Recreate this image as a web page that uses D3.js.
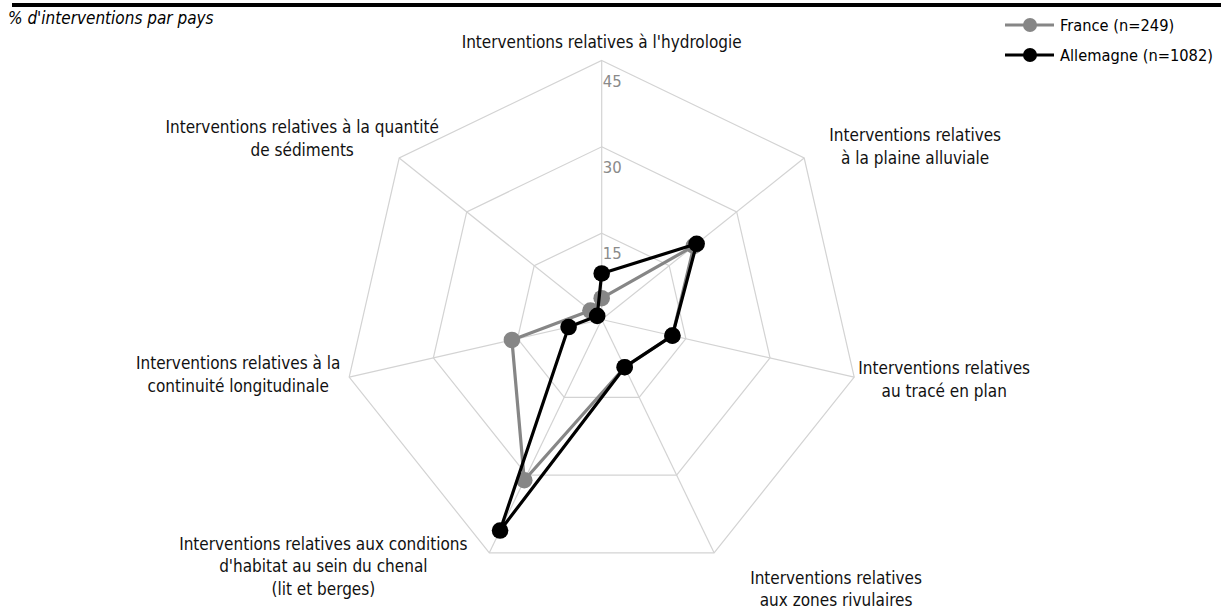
<!DOCTYPE html>
<html>
<head>
<meta charset="utf-8">
<script src="https://cdn.jsdelivr.net/npm/d3@7"></script>
<style>
  body { margin: 0; background: #fff; }
  svg { display: block; font-family: "DejaVu Sans Condensed", "DejaVu Sans", sans-serif; }
</style>
</head>
<body>
<div id="chart"></div>
<script>
// axis labels, clockwise from the top
var axes = [
  ["Interventions relatives à l'hydrologie"],
  ["Interventions relatives", "à la plaine alluviale"],
  ["Interventions relatives", "au tracé en plan"],
  ["Interventions relatives", "aux zones rivulaires"],
  ["Interventions relatives aux conditions", "d'habitat au sein du chenal", "(lit et berges)"],
  ["Interventions relatives à la", "continuité longitudinale"],
  ["Interventions relatives à la quantité", "de sédiments"]
];

var seriesNames = ["France (n=249)", "Allemagne (n=1082)"];
var france = [3.7, 20.5, 12.6, 9.2, 31.0, 16.0, 2.5];
var allemagne = [8.0, 21.1, 12.6, 9.2, 40.7, 5.9, 1.0];
var ticks = [15, 30, 45];

var width = 1221, height = 611;
var cx = 601.7, cy = 319.5, R = 259;

var svg = d3.select("#chart").append("svg")
  .attr("width", width)
  .attr("height", height);

// top rule + title
svg.append("rect").attr("x", 12).attr("y", 3).attr("width", width - 12).attr("height", 4).attr("fill", "#000");
svg.append("text")
  .attr("x", 8).attr("y", 24)
  .attr("font-size", 17)
  .attr("font-style", "italic")
  .text("% d'interventions par pays");

var r = d3.scaleLinear().domain([0, 45]).range([0, R]);
var n = axes.length;
function angle(i) { return -Math.PI / 2 + i * 2 * Math.PI / n; }
function pt(i, v) { return [cx + r(v) * Math.cos(angle(i)), cy + r(v) * Math.sin(angle(i))]; }

var grid = svg.append("g").attr("fill", "none").attr("stroke", "#d3d3d3").attr("stroke-width", 1.2);

// spokes
grid.selectAll("line").data(d3.range(n)).enter().append("line")
  .attr("x1", cx).attr("y1", cy)
  .attr("x2", function (i) { return pt(i, 45)[0]; })
  .attr("y2", function (i) { return pt(i, 45)[1]; });

// rings
grid.selectAll("path").data(ticks).enter().append("path")
  .attr("d", function (t) {
    return d3.line()(d3.range(n).map(function (i) { return pt(i, t); })) + "Z";
  });

// tick labels
svg.selectAll(".tick").data(ticks).enter().append("text")
  .attr("class", "tick")
  .attr("x", cx + 1)
  .attr("y", function (t) { return cy - r(t) + 26; })
  .attr("font-size", 16.5)
  .attr("fill", "#8a8a8a")
  .text(function (t) { return t; });

// axis labels: first baseline, relative to the outer vertex
var labelOffset = [
  [0, -13], [111, -17], [90, -3], [122, 31], [-166, -3], [-111, -8], [-97, -25]
];
var lineH = 22.5;
axes.forEach(function (lines, i) {
  var p = pt(i, 45);
  var t = svg.append("text")
    .attr("text-anchor", "middle")
    .attr("font-size", 17)
    .attr("fill", "#111");
  lines.forEach(function (s, k) {
    t.append("tspan")
      .attr("x", p[0] + labelOffset[i][0])
      .attr("y", p[1] + labelOffset[i][1] + k * lineH)
      .text(s);
  });
});

// series
var series = [
  { name: seriesNames[0], values: france, color: "#868686" },
  { name: seriesNames[1], values: allemagne, color: "#000000" }
];

series.forEach(function (s) {
  var pts = s.values.map(function (v, i) { return pt(i, v); });
  svg.append("path")
    .attr("d", d3.line()(pts) + "Z")
    .attr("fill", "none")
    .attr("stroke", s.color)
    .attr("stroke-width", 3.2)
    .attr("stroke-linejoin", "round");
  svg.append("g").selectAll("circle").data(pts).enter().append("circle")
    .attr("cx", function (d) { return d[0]; })
    .attr("cy", function (d) { return d[1]; })
    .attr("r", 8.3)
    .attr("fill", s.color);
});

// legend
var legend = svg.append("g").attr("transform", "translate(1005,25)");
series.forEach(function (s, i) {
  var g = legend.append("g").attr("transform", "translate(0," + (i * 30) + ")");
  g.append("line").attr("x1", 0).attr("x2", 49).attr("y1", 0).attr("y2", 0)
    .attr("stroke", s.color).attr("stroke-width", 3.2);
  g.append("circle").attr("cx", 25).attr("cy", 0).attr("r", 7).attr("fill", s.color);
  g.append("text").attr("x", 55).attr("y", 6).attr("font-size", 16.3).text(s.name);
});
</script>
</body>
</html>
